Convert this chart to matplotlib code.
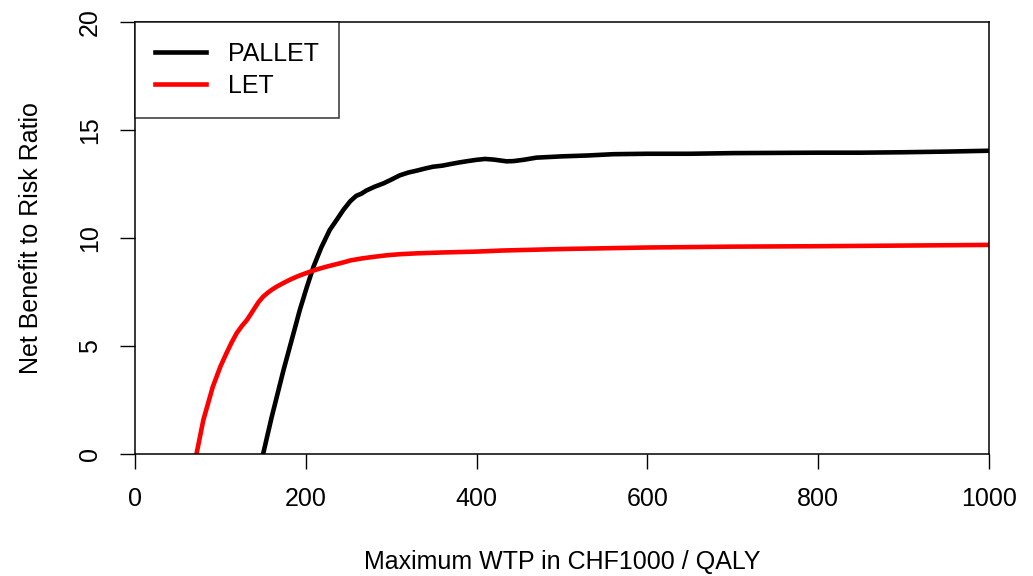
import matplotlib
matplotlib.use('Agg')
import matplotlib.pyplot as plt

plt.rcParams['font.family'] = ['Liberation Sans', 'DejaVu Sans']

# WTP (CHF1000 / QALY) and net benefit to risk ratio
let_x = [72, 80, 91, 100, 107, 113, 119, 125, 131, 136, 140, 145, 150, 155, 160, 166, 174, 182, 190, 198, 205, 215,
         225, 235, 245, 252, 265, 280, 295, 310, 330, 360, 400, 430, 500, 600, 700, 800, 900, 1000]
let_y = [0.0, 1.57, 3.1, 4.05, 4.66, 5.15, 5.59, 5.92, 6.2, 6.5, 6.75, 7.05, 7.28, 7.45, 7.6, 7.75, 7.92, 8.08, 8.22,
         8.34, 8.44, 8.57, 8.68, 8.78, 8.88, 8.96, 9.05, 9.13, 9.2, 9.25, 9.29, 9.33, 9.37, 9.42, 9.49, 9.56, 9.6,
         9.62, 9.65, 9.68]

pallet_x = [150, 160, 174, 185, 193, 201, 209, 218, 228, 236, 244, 252, 259, 265, 271, 281, 291, 300, 310, 320, 330,
            340, 349, 360, 369, 380, 388, 400, 410, 420, 435, 443, 455, 470, 500, 530, 560, 600, 650, 700, 750, 800,
            850, 900, 950, 1000]
pallet_y = [0.0, 1.7, 3.9, 5.5, 6.67, 7.7, 8.67, 9.55, 10.37, 10.83, 11.3, 11.7, 11.95, 12.05, 12.2, 12.38, 12.53,
            12.7, 12.9, 13.03, 13.12, 13.22, 13.3, 13.35, 13.42, 13.5, 13.55, 13.62, 13.66, 13.63, 13.55, 13.56, 13.62,
            13.72, 13.78, 13.82, 13.88, 13.9, 13.9, 13.93, 13.94, 13.95, 13.95, 13.97, 14.0, 14.04]

x_ticks = [0, 200, 400, 600, 800, 1000]
y_ticks = [0, 5, 10, 15, 20]

fig = plt.figure(figsize=(10.33, 5.76), dpi=100)
ax = fig.add_axes([135/1033, 1 - 454/576, (989-135)/1033, (454-22)/576])

ax.plot(pallet_x, pallet_y, color='black', lw=3.3, label='PALLET')
ax.plot(let_x, let_y, color='red', lw=3.3, label='LET')

ax.set_xlim(0, 1000)
ax.set_ylim(0, 20)
ax.set_xticks(x_ticks)
ax.set_yticks(y_ticks)
ax.tick_params(direction='out', length=11, width=1, labelsize=18, pad=13)
ax.tick_params(axis='y', labelrotation=90)
for lab in ax.get_yticklabels():
    lab.set_verticalalignment('center')
for s in ax.spines.values():
    s.set_linewidth(1.1)

ax.set_xlabel('Maximum WTP in CHF1000 / QALY', fontsize=18, labelpad=28)
ax.set_ylabel('Net Benefit to Risk Ratio', fontsize=18, labelpad=25)

leg = ax.legend(loc='upper left', fontsize=18, frameon=True, fancybox=False, borderaxespad=0,
                handlelength=2.05, handletextpad=0.85, borderpad=0.8, labelspacing=0.32)
leg.get_frame().set_edgecolor('black')
leg.get_frame().set_linewidth(1.1)

fig.savefig('out.png', dpi=100)
